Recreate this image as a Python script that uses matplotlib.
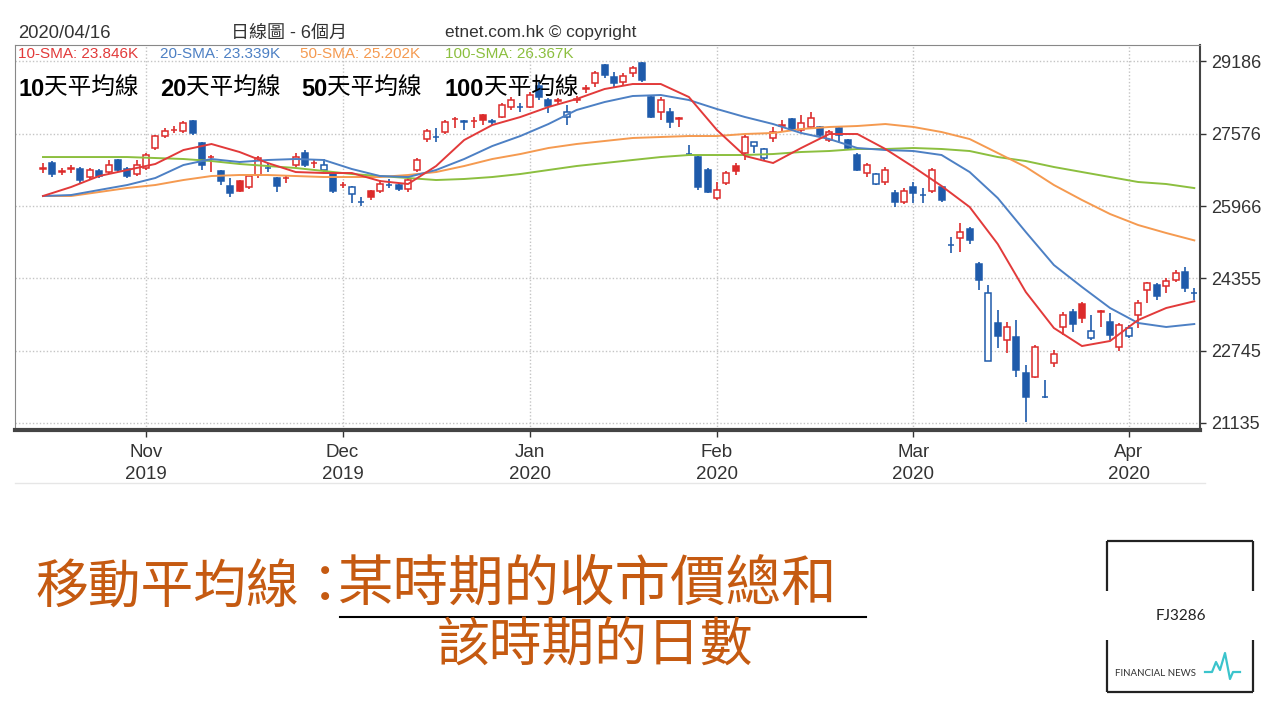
import numpy as np
import matplotlib
matplotlib.use("Agg")
import matplotlib.pyplot as plt

# ---------------- data (HSI daily candles, Oct 2019 - Apr 2020) ----------------
opens = [26800, 26925, 26735, 26800, 26791, 26613, 26747, 26724, 26992, 26791,
         26680, 26814, 27259, 27526, 27650, 27638, 27860, 27370, 27048, 26747,
         26413, 26524, 26390, 26658, 26824, 26591, 26580, 26880, 27148, 26915,
         26769, 26680, 26425, 26234, 26066, 26301, 26301, 26445, 26435, 26346,
         26769, 27459, 27515, 27615, 27895, 27850, 27850, 27994, 27850, 27949,
         28172, 28183, 28172, 28640, 28328, 28317, 27949, 28339, 28584, 28707,
         29108, 28840, 28729, 28929, 29152, 28395, 28061, 28061, 27916, 27136,
         27058, 26769, 26145, 26479, 26858, 27148, 27303, 27036, 27482, 27760,
         27905, 27660, 27727, 27727, 27437, 27704, 27437, 27103, 26702, 26457,
         26502, 26257, 26056, 26390, 26223, 26301, 26390, 25110, 25255, 25455,
         24676, 22516, 23362, 22983, 23050, 22248, 22160, 21725, 22471, 23273,
         23607, 23785, 23027, 23618, 23384, 22827, 23072, 23540, 24097, 24208,
         24186, 24320, 24498, 24041]
highs = [26925, 26969, 26814, 26880, 26836, 26814, 26791, 26992, 27014, 26836,
         26992, 27148, 27548, 27704, 27749, 27860, 27883, 27393, 27103, 26769,
         26591, 26546, 26658, 27081, 26925, 26613, 26658, 27148, 27214, 26992,
         27014, 26702, 26502, 26413, 26168, 26324, 26546, 26569, 26479, 26613,
         27036, 27682, 27704, 27883, 27949, 27883, 27949, 28016, 27905, 28261,
         28395, 28261, 28506, 28729, 28372, 28372, 28217, 28417, 28662, 28974,
         29130, 28951, 28929, 29085, 29174, 28417, 28395, 28150, 27949, 27326,
         27103, 26814, 26502, 26747, 26925, 27548, 27393, 27259, 27727, 27883,
         27927, 27994, 28061, 27749, 27660, 27727, 27459, 27148, 26925, 26702,
         26836, 26324, 26368, 26502, 26368, 26814, 26413, 25277, 25589, 25500,
         24720, 24208, 23652, 23384, 23429, 22427, 22871, 22093, 22761, 23607,
         23674, 23830, 23540, 23652, 23585, 23362, 23317, 23874, 24275, 24253,
         24364, 24542, 24609, 24141]
lows = [26702, 26613, 26658, 26702, 26479, 26546, 26591, 26680, 26724, 26591,
        26635, 26769, 27214, 27482, 27593, 27593, 27548, 26769, 26724, 26435,
        26168, 26279, 26346, 26591, 26724, 26279, 26479, 26836, 26836, 26814,
        26724, 26257, 26368, 26034, 25967, 26101, 26257, 26368, 26301, 26279,
        26724, 27393, 27393, 27571, 27704, 27660, 27704, 27771, 27771, 27927,
        28105, 28061, 28150, 28328, 28038, 28239, 27771, 28261, 28484, 28617,
        28818, 28595, 28662, 28840, 28729, 27927, 27883, 27704, 27727, 27103,
        26324, 26257, 26101, 26435, 26658, 26992, 27148, 26992, 27393, 27615,
        27638, 27615, 27704, 27504, 27393, 27370, 27214, 26747, 26613, 26435,
        26435, 25945, 26012, 26034, 26034, 26257, 26056, 24921, 24943, 25121,
        24097, 22516, 22805, 22694, 22160, 21157, 22137, 21691, 22382, 23094,
        23161, 23362, 22983, 23273, 22983, 22739, 23027, 23250, 23807, 23874,
        24030, 24275, 24052, 23874]
closes = [26814, 26680, 26747, 26814, 26546, 26769, 26635, 26880, 26769, 26635,
          26880, 27103, 27526, 27638, 27660, 27816, 27593, 26880, 27058, 26524,
          26257, 26301, 26635, 27036, 26814, 26413, 26591, 27058, 26880, 26925,
          26880, 26301, 26435, 26390, 26056, 26168, 26457, 26435, 26346, 26546,
          26992, 27638, 27504, 27838, 27905, 27838, 27860, 27883, 27838, 28217,
          28328, 28172, 28439, 28395, 28194, 28328, 28061, 28350, 28595, 28929,
          28885, 28707, 28862, 29041, 28773, 27949, 28328, 27838, 27927, 27125,
          26390, 26279, 26324, 26702, 26747, 27504, 27393, 27237, 27615, 27771,
          27660, 27816, 27927, 27548, 27615, 27548, 27259, 26769, 26880, 26680,
          26769, 26056, 26301, 26257, 26212, 26769, 26101, 25099, 25388, 25210,
          24320, 24030, 23072, 23273, 22315, 21714, 22827, 21714, 22672, 23540,
          23340, 23473, 23184, 23629, 23094, 23317, 23250, 23807, 24253, 23963,
          24297, 24475, 24141, 24030]

# moving averages, read every third session
sma_idx = list(range(0, 124, 3))
sma10 = [26190, 26390, 26635, 26769, 26903, 27214, 27348, 27170, 26925, 26724,
         26702, 26702, 26524, 26457, 26858, 27437, 27771, 27949, 28172, 28350,
         28573, 28684, 28684, 28395, 27660, 27081, 26925, 27259, 27571, 27571,
         27237, 26836, 26413, 25945, 25121, 24052, 23250, 22849, 22961, 23429,
         23696, 23846]
sma20 = [26190, 26212, 26324, 26435, 26591, 26880, 27014, 26947, 26992, 27014,
         26992, 26791, 26635, 26613, 26769, 27014, 27303, 27526, 27793, 28105,
         28283, 28417, 28439, 28328, 28127, 27949, 27793, 27593, 27459, 27259,
         27214, 27192, 27103, 26724, 26145, 25388, 24653, 24164, 23696, 23362,
         23273, 23339]
sma50 = [26190, 26190, 26279, 26368, 26435, 26546, 26635, 26658, 26658, 26635,
         26613, 26613, 26613, 26658, 26724, 26858, 27014, 27125, 27259, 27348,
         27415, 27482, 27504, 27526, 27526, 27571, 27593, 27682, 27727, 27749,
         27793, 27727, 27615, 27459, 27148, 26836, 26435, 26101, 25789, 25544,
         25366, 25202]
sma100 = [27058, 27058, 27058, 27058, 27036, 27014, 26969, 26903, 26858, 26814,
          26747, 26680, 26635, 26591, 26546, 26569, 26613, 26680, 26769, 26858,
          26925, 26992, 27058, 27103, 27103, 27103, 27125, 27170, 27192, 27237,
          27237, 27259, 27237, 27192, 27058, 26969, 26836, 26724, 26613, 26502,
          26457, 26367]

month_idx = [11, 32, 52, 72, 93, 116]
month_names = ["Nov", "Dec", "Jan", "Feb", "Mar", "Apr"]
month_years = ["2019", "2019", "2020", "2020", "2020", "2020"]
y_ticks = [21135, 22745, 24355, 25966, 27576, 29186]

header_date = "2020/04/16"
header_title = "日線圖 - 6個月"
header_src = "etnet.com.hk © copyright"
sma_labels = ["10-SMA: 23.846K", "20-SMA: 23.339K", "50-SMA: 25.202K", "100-SMA: 26.367K"]
cn_nums = ["10", "20", "50", "100"]
cn_word = "天平均線"
formula_left = "移動平均線："
formula_num = "某時期的收市價總和"
formula_den = "該時期的日數"
logo_code = "FJ3286"
logo_text = "FINANCIAL NEWS"
pulse_x = [1205, 1212, 1216, 1220, 1225, 1230, 1233, 1240]
pulse_y = [672, 672, 662, 670, 653, 679, 672, 672]

# ---------------- styles ----------------
RED = "#dc2b2b"
BLUE = "#1f5bab"
SMA_COLS = ["#e23a3a", "#4d80c4", "#f59a50", "#8cbf3f"]
TXT = "#333333"
BROWN = "#C55A11"

fig = plt.figure(figsize=(12.8, 7.2), dpi=100)
fig.patch.set_facecolor("white")

ax = fig.add_axes([15 / 1280, 1 - 430 / 720, 1185 / 1280, 385 / 720])
ax.set_xlim(-2.99, 123.61)
ax.set_ylim(20979, 29553)

o = np.array(opens, float)
c = np.array(closes, float)
h = np.array(highs, float)
l = np.array(lows, float)
n = len(c)
idx = np.arange(n)
prev = np.concatenate([[o[0]], c[:-1]])
is_red = c >= prev
hollow = c >= o
cols = [RED if r else BLUE for r in is_red]
top = np.maximum(o, c)
bot = np.minimum(o, c)

ax.vlines(idx, top, h, colors=cols, lw=1.2, zorder=3)
ax.vlines(idx, l, bot, colors=cols, lw=1.2, zorder=3)
hgt = np.maximum(top - bot, 10)
base = (top + bot) / 2 - hgt / 2
for i in range(n):
    ax.bar(idx[i], hgt[i], bottom=base[i], width=0.64,
           facecolor="white" if hollow[i] else cols[i],
           edgecolor=cols[i], linewidth=1.1, zorder=3)

for vals, col in zip([sma100, sma50, sma20, sma10], SMA_COLS[::-1]):
    ax.plot(sma_idx, vals, color=col, lw=1.4, zorder=4, solid_joinstyle="miter")

ax.set_yticks(y_ticks)
ax.set_yticklabels([str(v) for v in y_ticks])
ax.yaxis.tick_right()
ax.set_xticks(month_idx)
ax.set_xticklabels([f"{m}\n{y}" for m, y in zip(month_names, month_years)])
for lab in ax.get_xticklabels():
    lab.set_linespacing(1.38)
ax.tick_params(axis="y", direction="out", length=4, width=1, colors=TXT,
               labelsize=13, pad=4)
ax.tick_params(axis="x", direction="out", length=5, width=1, colors=TXT,
               labelsize=13.5, pad=5)
for lab in ax.get_xticklabels() + ax.get_yticklabels():
    lab.set_family("Liberation Sans")
ax.grid(True, color="#c4c4c4", linestyle=(0, (1, 1.5)), lw=1)
ax.set_axisbelow(True)

ax.spines["left"].set_linestyle((0, (1, 1)))
ax.spines["left"].set_color("#888888")
ax.spines["top"].set_linestyle((0, (1, 1)))
ax.spines["top"].set_color("#888888")
ax.spines["right"].set_color("#444444")
ax.spines["right"].set_linewidth(1.5)
ax.spines["bottom"].set_color("#444444")
ax.spines["bottom"].set_linewidth(3)

# ---------------- overlay in pixel coordinates ----------------
ov = fig.add_axes([0, 0, 1, 1], facecolor="none", zorder=10)
ov.set_xlim(0, 1280)
ov.set_ylim(720, 0)
ov.axis("off")

fam = ["Liberation Sans", "Noto Sans CJK TC"]
ov.text(18, 33, header_date, fontsize=13.3, color=TXT, family=fam, va="center")
ov.text(231, 33, header_title, fontsize=13, color=TXT, family=fam, va="center")
ov.text(445, 33, header_src, fontsize=12.4, color=TXT, family=fam, va="center")

for s, x, col in zip(sma_labels, [18, 160, 300, 445], SMA_COLS):
    ov.text(x, 54, s, fontsize=11, color=col, family="Liberation Sans", va="center")

fig.canvas.draw()
rend = fig.canvas.get_renderer()
for num, x in zip(cn_nums, [18, 160, 301, 445]):
    t = ov.text(x, 89, num, fontsize=17, fontweight="bold", color="black",
                family="Liberation Sans", va="center")
    w = t.get_window_extent(rend).width
    ov.text(x + w, 88, cn_word, fontsize=17, color="black",
            family="Noto Sans CJK TC", va="center")

ov.plot([15, 1205], [483, 483], color="#e6e6e6", lw=1)

ov.text(35, 588, formula_left, fontsize=38, color=BROWN, family="Noto Sans CJK TC",
        fontweight="light", va="center")
ov.text(337, 585, formula_num, fontsize=40, color=BROWN, family="Noto Sans CJK TC",
        fontweight="light", va="center")
ov.plot([340, 866], [617, 617], color="black", lw=1.5)
ov.text(437, 646, formula_den, fontsize=38, color=BROWN, family="Noto Sans CJK TC",
        fontweight="light", va="center")

# logo box
box_kw = dict(color="#222222", lw=1.6, solid_capstyle="butt")
ov.plot([1107, 1253], [541, 541], **box_kw)
ov.plot([1107, 1107], [541, 591], **box_kw)
ov.plot([1253, 1253], [541, 591], **box_kw)
ov.plot([1107, 1107], [640, 692], **box_kw)
ov.plot([1253, 1253], [640, 692], **box_kw)
ov.plot([1107, 1253], [692, 692], **box_kw)
ov.text(1181, 616, logo_code, fontsize=11, color="#222222", family="Lato",
        ha="center", va="center")
ov.text(1115, 674, logo_text, fontsize=7, color="#333333", family="Lato",
        ha="left", va="center")
ov.plot(pulse_x, pulse_y, color="#3bc4cc", lw=1.6)

fig.savefig("out.png", dpi=100, facecolor="white")
